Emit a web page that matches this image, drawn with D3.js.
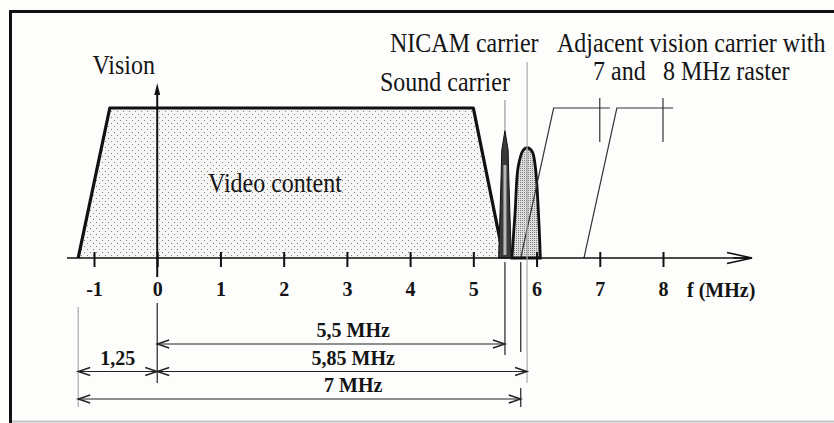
<!DOCTYPE html>
<html>

<head>
    <meta charset=utf-8 />
    <script src="https://cdn.jsdelivr.net/npm/d3@7"></script>
    <title>PAL B/G spectrum</title>
    <style>
        html,
        body {
            margin: 0;
            background: #fdfdfc;
        }

        text {
            font-family: 'Liberation Serif', 'Times New Roman', serif;
            fill: #141414;
        }

        .num {
            font-weight: bold;
            font-size: 20px;
        }

        .lbl {
            font-size: 24px;
        }
    </style>
</head>

<body>
    <div id="svg-canvas"></div>
    <script>
        // tick values on the frequency axis (MHz)
        var tickValues = [-1, 0, 1, 2, 3, 4, 5, 6, 7, 8];

        // vision band outline: frequency / relative level
        var visionF = [-1.25, -0.75, 5.0, 5.48];
        var visionA = [0, 1, 1, 0];

        // sound carrier spike
        var soundF = [5.40, 5.44, 5.45, 5.50, 5.55, 5.56, 5.60];
        var soundA = [0, 0.55, 0.72, 0.85, 0.72, 0.55, 0];

        // NICAM hump
        var nicamF = [5.61, 5.66, 5.71, 5.79, 5.85, 5.93, 5.98, 6.03, 6.06];
        var nicamA = [0, 0.30, 0.61, 0.72, 0.735, 0.71, 0.61, 0.30, 0];

        // adjacent vision carriers (7 and 8 MHz raster)
        var adjRaster = [7, 8];

        // dimension arrows
        var dimLabels = ['5,5 MHz', '5,85 MHz', '1,25', '7 MHz'];
        var dimFrom = [0, 0, -1.25, -1.25];
        var dimTo = [5.5, 5.85, 0, 5.75];
        var dimRow = [0, 1, 1, 2];
        var dimLabelF = [3.1, 3.1, -0.625, 3.1];
    </script>
    <script>
        var width = 834;
        var height = 423;

        var svg = d3.select('#svg-canvas').append('svg')
            .attr('width', width)
            .attr('height', height);

        var x = d3.scaleLinear().domain([-1, 8]).range([94, 663]);
        var y = d3.scaleLinear().domain([0, 1]).range([258, 108]);
        var rowY = d3.scaleLinear().domain([0, 2]).range([344, 399]);

        var defs = svg.append('defs');
        var p1 = defs.append('pattern').attr('id', 'dots').attr('patternUnits', 'userSpaceOnUse')
            .attr('width', 6).attr('height', 6);
        p1.append('rect').attr('width', 6).attr('height', 6).attr('fill', '#f6f6f4');
        p1.append('rect').attr('x', 0).attr('y', 0).attr('width', 1).attr('height', 1).attr('fill', '#808080');
        p1.append('rect').attr('x', 3).attr('y', 3).attr('width', 1).attr('height', 1).attr('fill', '#808080');

        var p2 = defs.append('pattern').attr('id', 'dense').attr('patternUnits', 'userSpaceOnUse')
            .attr('width', 2).attr('height', 2);
        p2.append('rect').attr('width', 2).attr('height', 2).attr('fill', '#dedede');
        p2.append('rect').attr('width', 1).attr('height', 1).attr('fill', '#808080');

        // frame
        svg.append('line').attr('x1', 10.5).attr('x2', 10.5).attr('y1', 10).attr('y2', 423)
            .attr('stroke', '#111').attr('stroke-width', 3);
        svg.append('line').attr('x1', 9).attr('x2', 834).attr('y1', 11.5).attr('y2', 11.5)
            .attr('stroke', '#111').attr('stroke-width', 3);
        svg.append('line').attr('x1', 12).attr('x2', 834).attr('y1', 421.5).attr('y2', 421.5)
            .attr('stroke', '#c4c4c4').attr('stroke-width', 2);

        var line = d3.line().x(d => x(d[0])).y(d => y(d[1]));
        var smooth = d3.line().x(d => x(d[0])).y(d => y(d[1])).curve(d3.curveCatmullRom);

        // vision band
        svg.append('path')
            .attr('d', line(d3.zip(visionF, visionA)))
            .attr('fill', 'url(#dots)')
            .attr('stroke', '#111')
            .attr('stroke-width', 3.2)
            .attr('stroke-linejoin', 'round');

        // NICAM hump
        svg.append('path')
            .attr('d', smooth(d3.zip(nicamF, nicamA)) + 'Z')
            .attr('fill', 'url(#dense)')
            .attr('stroke', '#111')
            .attr('stroke-width', 2.8);

        // sound carrier spike
        svg.append('path')
            .attr('d', line(d3.zip(soundF, soundA)) + 'Z')
            .attr('fill', '#3a3a3a')
            .attr('stroke', '#111')
            .attr('stroke-width', 1);
        svg.append('rect')
            .attr('x', x(5.5) - 1.5).attr('width', 3)
            .attr('y', y(0.62)).attr('height', y(0.02) - y(0.62))
            .attr('fill', '#b8b8b8');

        // adjacent channel slopes
        adjRaster.forEach(function (r) {
            svg.append('path')
                .attr('d', line([[r - 1.25, 0], [r - 0.73, 1], [r + 0.16, 1]]))
                .attr('fill', 'none').attr('stroke', '#333').attr('stroke-width', 1.2);
            svg.append('line')
                .attr('x1', x(r)).attr('x2', x(r))
                .attr('y1', y(1.067)).attr('y2', y(0.773))
                .attr('stroke', '#333').attr('stroke-width', 1.2);
        });

        // frequency axis
        svg.append('line').attr('x1', 67).attr('x2', 752).attr('y1', y(0)).attr('y2', y(0))
            .attr('stroke', '#111').attr('stroke-width', 1.5);
        svg.append('path')
            .attr('d', 'M727,252.5 L752,258 L727,263.5 M733,258 L752,258')
            .attr('fill', 'none').attr('stroke', '#111').attr('stroke-width', 1.6);

        var axis = d3.axisBottom(x).tickValues(tickValues).tickSize(9).tickPadding(28);
        var ax = svg.append('g')
            .attr('transform', 'translate(0,' + y(0) + ')')
            .call(axis);
        ax.select('.domain').remove();
        ax.selectAll('.tick line').attr('y1', -6).attr('stroke', '#111').attr('stroke-width', 2);
        ax.selectAll('.tick text')
            .attr('class', 'num')
            .attr('dy', null)
            .attr('y', 38)
            .attr('fill', '#141414')
            .style('font-family', "'Liberation Serif', 'Times New Roman', serif")
            .style('font-size', '20px')
            .text(d => d);

        svg.append('text').attr('class', 'num').attr('x', 687).attr('y', 297).text('f (MHz)');

        // vision carrier arrow
        svg.append('line').attr('x1', x(0)).attr('x2', x(0)).attr('y1', 90).attr('y2', 277)
            .attr('stroke', '#111').attr('stroke-width', 2);
        svg.append('path')
            .attr('d', 'M' + x(0) + ',83 L' + (x(0) + 3) + ',95 L' + (x(0) - 3) + ',95 Z')
            .attr('fill', '#111');

        // marker lines for carriers
        var thin = function (f, y1, y2, c) {
            svg.append('line').attr('x1', x(f)).attr('x2', x(f)).attr('y1', y1).attr('y2', y2)
                .attr('stroke', c).attr('stroke-width', 1.2);
        };
        thin(5.5, 100, 130, '#999');
        thin(5.5, 262, 355, '#222');
        thin(5.85, 62, 383, '#aaa');
        thin(5.75, 262, 352, '#222');
        thin(5.75, 388, 407, '#222');
        thin(-1.25, 307, 407, '#aaa');
        thin(0, 303, 383, '#222');

        // dimension arrows
        function chevron(xp, yp, dir) {
            return 'M' + (xp + dir * 12) + ',' + (yp - 4) + ' L' + xp + ',' + yp + ' L' + (xp + dir * 12) + ',' + (yp + 4);
        }
        dimLabels.forEach(function (lab, i) {
            var yy = rowY(dimRow[i]);
            var x1 = x(dimFrom[i]), x2 = x(dimTo[i]);
            svg.append('line').attr('x1', x1).attr('x2', x2).attr('y1', yy).attr('y2', yy)
                .attr('stroke', '#222').attr('stroke-width', 1);
            svg.append('path')
                .attr('d', chevron(x1, yy, 1) + ' ' + chevron(x2, yy, -1))
                .attr('fill', 'none').attr('stroke', '#222').attr('stroke-width', 1.4);
            svg.append('text').attr('class', 'num')
                .attr('transform', 'translate(' + x(dimLabelF[i]) + ',' + (yy - 7) + ') scale(1,1.08)')
                .attr('text-anchor', 'middle')
                .text(lab);
        });

        // labels
        var labels = [
            ['Vision', 155, 74, 'end'],
            ['Video content', 208, 192, 'start'],
            ['Sound carrier', 380, 91, 'start'],
            ['NICAM carrier', 390, 52, 'start'],
            ['Adjacent vision carrier with', 557, 52, 'start'],
            ['7 and', 593, 80, 'start'],
            ['8 MHz raster', 663, 80, 'start']
        ];
        svg.selectAll('.lbl').data(labels).enter().append('text')
            .attr('class', 'lbl')
            .attr('transform', d => 'translate(' + d[1] + ',' + d[2] + ') scale(1,1.1)')
            .attr('text-anchor', d => d[3])
            .text(d => d[0]);
    </script>
</body>

</html>
